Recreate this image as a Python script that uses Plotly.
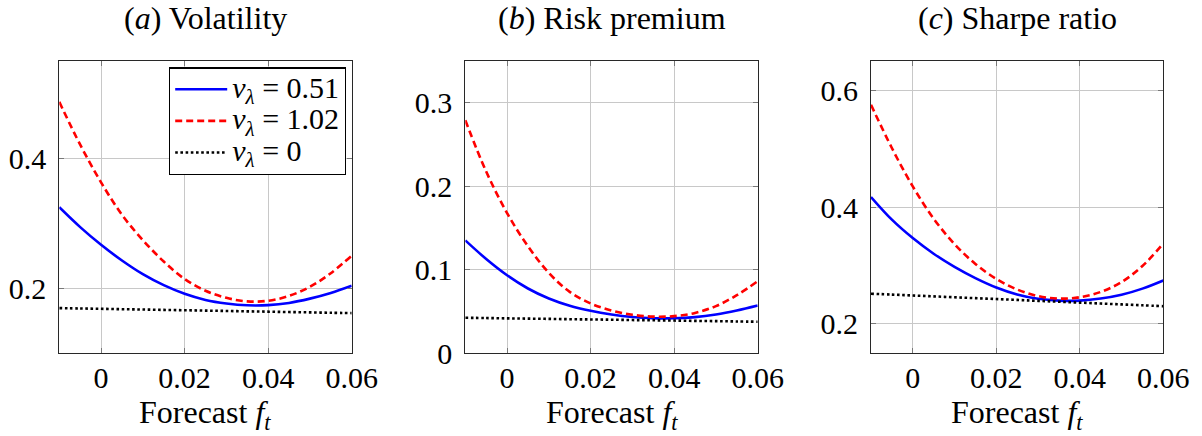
import plotly.graph_objects as go

# ---- data ----
forecast = [-0.01, -0.005, 0.0, 0.005, 0.01, 0.015, 0.02, 0.025, 0.03, 0.035, 0.04, 0.045, 0.05, 0.055, 0.06]

vol_051 = [0.3246, 0.294, 0.2667, 0.2426, 0.2215, 0.2045, 0.1913, 0.1818, 0.1763, 0.1735, 0.1738, 0.1772, 0.1838, 0.1925, 0.2036]
vol_102 = [0.487, 0.421, 0.363, 0.313, 0.274, 0.241, 0.214, 0.196, 0.185, 0.1795, 0.1805, 0.188, 0.202, 0.223, 0.250]
vol_0 = [0.1692, 0.1686, 0.1681, 0.1675, 0.1670, 0.1664, 0.1659, 0.1653, 0.1648, 0.1642, 0.1637, 0.1631, 0.1626, 0.1620, 0.1615]

rp_051 = [0.135, 0.1127, 0.0932, 0.0773, 0.0653, 0.0566, 0.0506, 0.0462, 0.0432, 0.0417, 0.0416, 0.0430, 0.0462, 0.051, 0.057]
rp_102 = [0.279, 0.2175, 0.1677, 0.1279, 0.096, 0.0733, 0.0594, 0.051, 0.0458, 0.0436, 0.0442, 0.048, 0.0562, 0.0693, 0.086]
rp_0 = [0.0422, 0.0419, 0.0415, 0.0412, 0.0409, 0.0405, 0.0402, 0.0399, 0.0395, 0.0392, 0.0389, 0.0385, 0.0382, 0.0378, 0.0375]

sr_051 = [0.4171, 0.3783, 0.3468, 0.3200, 0.2975, 0.2783, 0.2622, 0.2502, 0.2428, 0.2397, 0.2397, 0.2432, 0.2497, 0.2602, 0.2742]
sr_102 = [0.575, 0.501, 0.4353, 0.380, 0.3365, 0.3025, 0.2769, 0.2587, 0.2475, 0.2431, 0.2455, 0.2545, 0.2715, 0.299, 0.3375]
sr_0 = [0.2515, 0.2500, 0.2485, 0.2470, 0.2454, 0.2439, 0.2424, 0.2409, 0.2393, 0.2378, 0.2363, 0.2347, 0.2332, 0.2317, 0.2301]

series_names = ["<i>ν</i><sub><i>λ</i></sub> = 0.51", "<i>ν</i><sub><i>λ</i></sub> = 1.02", "<i>ν</i><sub><i>λ</i></sub> = 0"]
panel_titles = ["(<i>a</i>) Volatility", "(<i>b</i>) Risk premium", "(<i>c</i>) Sharpe ratio"]
x_title = "Forecast <i>f</i><sub><i>t</i></sub>"
x_ticks = [0, 0.02, 0.04, 0.06]
x_ticktext = ["0", "0.02", "0.04", "0.06"]
y_ticks = [[0.2, 0.4], [0, 0.1, 0.2, 0.3], [0.2, 0.4, 0.6]]
y_ticktext = [["0.2", "0.4"], ["0", "0.1", "0.2", "0.3"], ["0.2", "0.4", "0.6"]]
y_ranges = [[0.1, 0.55], [0.0, 0.35], [0.15, 0.65]]
x_range = [-0.01, 0.06]

panels = [
    (vol_051, vol_102, vol_0),
    (rp_051, rp_102, rp_0),
    (sr_051, sr_102, sr_0),
]

# ---- layout geometry ----
W, H = 1202, 436
x_doms = [[59.3 / W, 351.7 / W], [465.3 / W, 757.7 / W], [871.0 / W, 1163.3 / W]]
y_dom = [1 - 353 / H, 1 - 61 / H]

FONT = "Liberation Serif, DejaVu Serif, serif"
FS_TICK = 30
FS_TITLE = 32
FS_LEG_TEXT = 30
FS_LEG_ROW = 22  # controls legend row spacing
styles = [
    dict(color="rgb(0,0,255)", width=2.6, dash="solid"),
    dict(color="rgb(255,0,0)", width=2.6, dash="7px,4px"),
    dict(color="black", width=2.6, dash="2.6px,2.6px"),
]

fig = go.Figure()
for i, (s1, s2, s3) in enumerate(panels):
    xa = "x" if i == 0 else f"x{i+1}"
    ya = "y" if i == 0 else f"y{i+1}"
    for j, ys in enumerate((s1, s2, s3)):
        fig.add_trace(go.Scatter(
            x=forecast, y=ys, mode="lines", line=dict(shape="spline", **styles[j]),
            name=f"<span style='font-size:{FS_LEG_TEXT}px'>{series_names[j]}</span>",
            showlegend=(i == 0), xaxis=xa, yaxis=ya,
        ))

axis_common = dict(
    showgrid=True, gridcolor="rgb(200,200,200)", gridwidth=1,
    showline=True, linecolor="rgb(40,40,40)", linewidth=1.2, mirror="ticks",
    ticks="inside", ticklen=5, tickcolor="rgb(120,120,120)", tickwidth=1,
    zeroline=False, tickfont=dict(family=FONT, size=FS_TICK, color="black"),
    automargin=False,
)

layout = dict(
    width=W, height=H, margin=dict(l=0, r=0, t=0, b=0),
    paper_bgcolor="white", plot_bgcolor="white",
    font=dict(family=FONT, size=FS_TICK, color="black"),
    legend=dict(
        x=346 / W, xanchor="right", y=1 - 67.3 / H, yanchor="top",
        bordercolor="black", borderwidth=1.2, bgcolor="white",
        font=dict(family=FONT, size=FS_LEG_ROW), tracegroupgap=0, itemwidth=52,
    ),
    annotations=[],
)
for i in range(3):
    xk = "xaxis" if i == 0 else f"xaxis{i+1}"
    yk = "yaxis" if i == 0 else f"yaxis{i+1}"
    ya = "y" if i == 0 else f"y{i+1}"
    xa = "x" if i == 0 else f"x{i+1}"
    layout[xk] = dict(axis_common, domain=x_doms[i], range=x_range, anchor=ya,
                      tickvals=x_ticks, ticktext=x_ticktext, ticklabelstandoff=-2)
    layout[yk] = dict(axis_common, domain=y_dom, range=y_ranges[i], anchor=xa,
                      tickvals=y_ticks[i], ticktext=y_ticktext[i], ticklabelstandoff=6)
    cx = (x_doms[i][0] + x_doms[i][1]) / 2
    layout["annotations"].append(dict(
        text=panel_titles[i], x=cx, y=1 - 18 / H, xref="paper", yref="paper",
        xanchor="center", yanchor="middle", showarrow=False,
        font=dict(family=FONT, size=FS_TITLE, color="black")))
    layout["annotations"].append(dict(
        text=x_title, x=cx, y=1 - 414 / H, xref="paper", yref="paper",
        xanchor="center", yanchor="middle", showarrow=False,
        font=dict(family=FONT, size=FS_TITLE, color="black")))

fig.update_layout(**layout)
fig.write_html("out.html", config={"displayModeBar": False},
               post_script="document.body.style.margin='0';document.body.style.overflow='hidden';")
